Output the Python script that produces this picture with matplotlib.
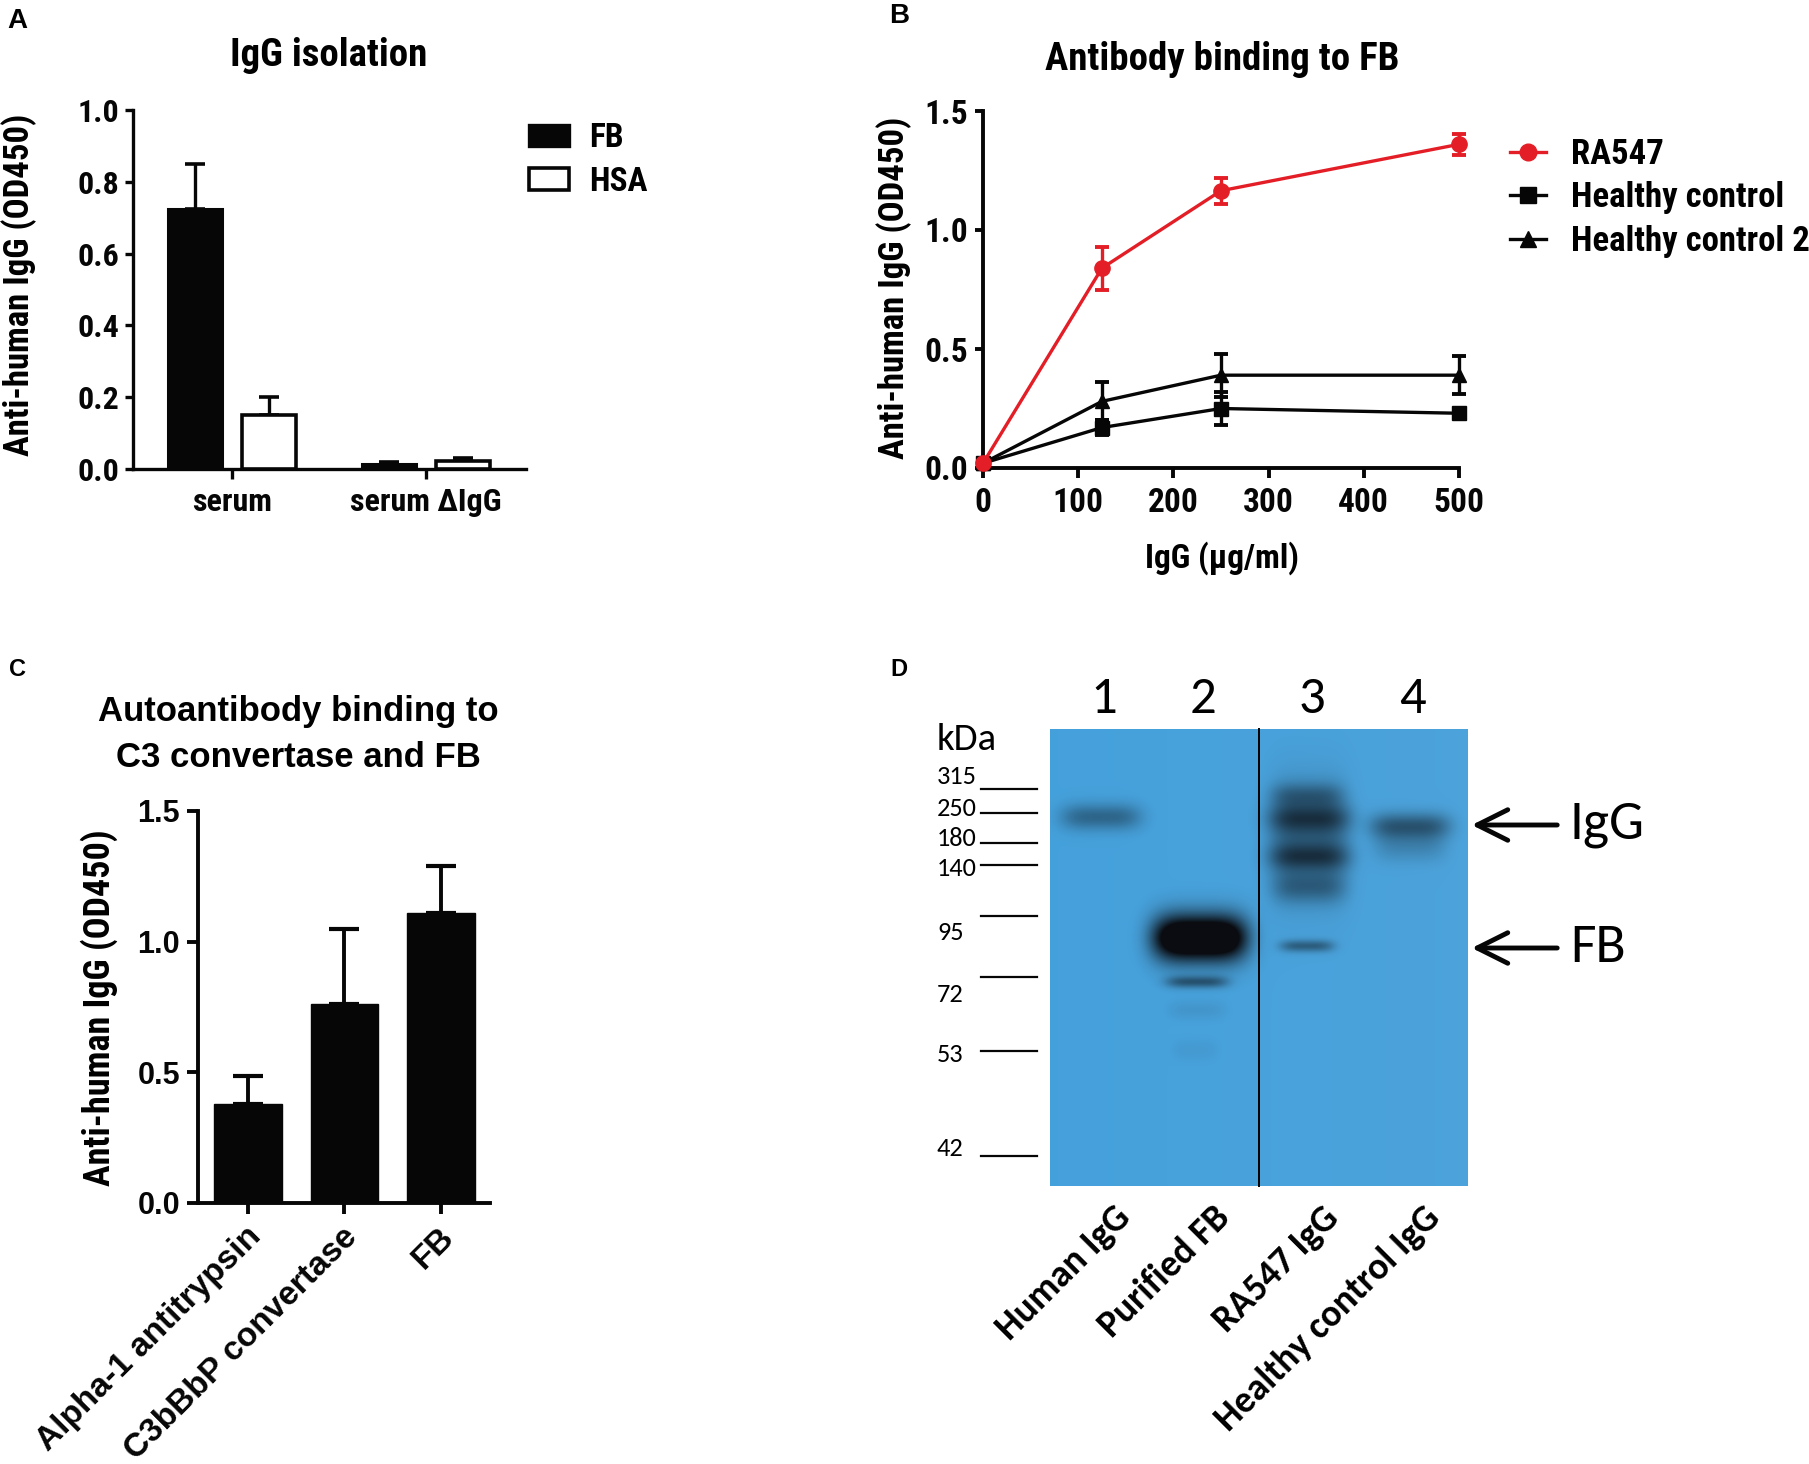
import numpy as np
import matplotlib
matplotlib.use('Agg')
import matplotlib.pyplot as plt
from matplotlib.patches import Patch
from matplotlib.lines import Line2D

# ---------------- data ----------------
# Panel A
a_groups = ['serum', 'serum \u0394IgG']
a_fb = [0.725, 0.015]
a_fb_err = [0.125, 0.004]
a_hsa = [0.150, 0.021]
a_hsa_err = [0.050, 0.010]

# Panel B
b_conc = [0, 125, 250, 500]
b_ra547 = [0.02, 0.84, 1.165, 1.36]
b_ra547_err = [0.0, 0.09, 0.055, 0.045]
b_hc = [0.02, 0.17, 0.25, 0.23]
b_hc_err = [0.0, 0.03, 0.07, 0.012]
b_hc2 = [0.02, 0.28, 0.39, 0.39]
b_hc2_err = [0.0, 0.08, 0.09, 0.08]

# Panel C
c_cats = ['Alpha-1 antitrypsin', 'C3bBbP convertase', 'FB']
c_vals = [0.38, 0.76, 1.11]
c_err = [0.105, 0.29, 0.18]

# Panel D (western blot, positions in image pixels)
d_lane_nums = ['1', '2', '3', '4']
d_lane_names = ['Human IgG', 'Purified FB', 'RA547 IgG', 'Healthy control IgG']
d_lane_x = [1101, 1200, 1309, 1410]
d_marker_kda = ['315', '250', '180', '140', '', '95', '72', '53', '42']
d_marker_label_y = [776, 808, 839, 869, None, 932, 994, 1055, 1149]
d_marker_line_y = [789, 813, 843, 865, 916, None, 977, 1051, 1156]
# (lane index, centre y, half width, half height, intensity, x shift)
d_bands = [
    (0, 817, 40, 13, 0.40, 0),
    (1, 938, 47, 23, 1.6, 0),
    (1, 982, 31, 6, 0.50, -3),
    (1, 1010, 28, 9, 0.08, -3),
    (1, 1050, 22, 10, 0.05, -5),
    (2, 795, 36, 12, 0.30, -2),
    (2, 818, 42, 14, 0.42, 0),
    (2, 857, 41, 13, 0.40, 0),
    (2, 840, 40, 52, 0.42, 0),
    (2, 888, 36, 15, 0.30, 0),
    (2, 946, 27, 6, 0.45, -2),
    (3, 826, 40, 13, 0.50, 0),
    (3, 846, 36, 16, 0.20, 0),
]
d_annot = ['IgG', 'FB']
d_annot_y = [825, 948]

# ---------------- layout helpers ----------------
W, H = 1809, 1464
fig = plt.figure(figsize=(W / 100, H / 100), dpi=100)
NARROW = ['Roboto Condensed', 'PT Sans Narrow', 'Liberation Sans', 'DejaVu Sans']
ARIAL = ['Liberation Sans', 'DejaVu Sans']
CAL = ['Carlito', 'Lato', 'DejaVu Sans']
plt.rcParams['font.family'] = NARROW
plt.rcParams['font.weight'] = 'bold'
K = '#060606'
RED = '#E41E26'


def ax_px(l, t, r, b):
    return fig.add_axes([l / W, 1 - b / H, (r - l) / W, (b - t) / H])


def fx(x):
    return x / W


def fy(y):
    return 1 - y / H


def style_axes(ax, lw, ylen, xlen, fs, family, ypad, xpad):
    for s in ['top', 'right']:
        ax.spines[s].set_visible(False)
    for s in ['left', 'bottom']:
        ax.spines[s].set_linewidth(lw)
        ax.spines[s].set_color(K)
    ax.tick_params(axis='y', length=ylen, width=lw, pad=ypad, colors=K)
    ax.tick_params(axis='x', length=xlen, width=lw, pad=xpad, colors=K)
    for lab in ax.get_xticklabels() + ax.get_yticklabels():
        lab.set_fontfamily(family)
        lab.set_fontweight('bold')
        lab.set_fontsize(fs)


# ---------------- Panel A ----------------
axA = ax_px(133, 110, 526, 469)
xa = np.arange(len(a_groups))
off, bw = 0.19, 0.275
axA.errorbar(xa - off, a_fb, yerr=[np.zeros(len(a_fb)), a_fb_err], fmt='none',
             ecolor=K, elinewidth=2.4, capsize=7.5, capthick=2.6, zorder=2)
axA.errorbar(xa + off, a_hsa, yerr=[np.zeros(len(a_hsa)), a_hsa_err], fmt='none',
             ecolor=K, elinewidth=2.4, capsize=7.5, capthick=2.6, zorder=2)
axA.bar(xa - off, a_fb, bw, color=K, edgecolor=K, lw=2.2, zorder=3)
axA.bar(xa + off, a_hsa, bw, color='white', edgecolor=K, lw=2.6, zorder=3)
axA.set_xlim(-0.51, 1.515)
axA.set_ylim(0, 1.0)
axA.set_yticks(np.arange(0, 1.01, 0.2))
axA.set_yticklabels([f'{v:.1f}' for v in np.arange(0, 1.01, 0.2)])
axA.set_xticks(xa)
axA.set_xticklabels(a_groups)
style_axes(axA, 2.4, 6, 7, 23, NARROW, 4, 6)
fig.text(fx(329), fy(55), 'IgG isolation', ha='center', va='center',
         fontsize=28, fontweight='bold', family=NARROW)
fig.text(fx(19), fy(285), 'Anti-human IgG (OD450)', rotation=90, ha='center',
         va='center', fontsize=25, fontweight='bold', family=NARROW)
fig.legend(handles=[Patch(fc=K, ec=K, lw=2.4, label='FB'),
                    Patch(fc='white', ec=K, lw=2.6, label='HSA')],
           loc='upper left', bbox_to_anchor=(fx(529), fy(122)), frameon=False,
           prop={'family': NARROW, 'weight': 'bold', 'size': 24},
           handlelength=1.2, handleheight=0.6, handletextpad=0.6,
           labelspacing=0.35, borderpad=0, borderaxespad=0)

# ---------------- Panel B ----------------
axB = ax_px(983, 111, 1459, 468)
series_b = [
    (b_ra547, b_ra547_err, RED, 'o', 11, 'RA547'),
    (b_hc, b_hc_err, K, 's', 10, 'Healthy control'),
    (b_hc2, b_hc2_err, K, '^', 10, 'Healthy control 2'),
]
handles_b = []
for vals, err, col, mk, ms, lab in series_b[::-1]:
    axB.errorbar(b_conc, vals, yerr=err, fmt='-' + mk, color=col, ms=ms,
                 lw=2.4, elinewidth=2.4, capsize=5, capthick=2.8,
                 clip_on=False, zorder=3)
for vals, err, col, mk, ms, lab in series_b:
    handles_b.append(Line2D([0], [0], color=col, marker=mk, ms=ms + 1, lw=2.4,
                            label=lab))
axB.set_xlim(0, 500)
axB.set_ylim(0, 1.5)
axB.set_xticks(np.arange(0, 501, 100))
axB.set_yticks([0, 0.5, 1.0, 1.5])
axB.set_yticklabels(['0.0', '0.5', '1.0', '1.5'])
style_axes(axB, 2.8, 6, 7, 24, NARROW, 5, 7)
fig.text(fx(1222), fy(60), 'Antibody binding to FB', ha='center', va='center',
         fontsize=28, fontweight='bold', family=NARROW)
fig.text(fx(1222), fy(558), 'IgG (\u00b5g/ml)', ha='center', va='center',
         fontsize=24, fontweight='bold', family=NARROW)
fig.text(fx(894), fy(288), 'Anti-human IgG (OD450)', rotation=90, ha='center',
         va='center', fontsize=25, fontweight='bold', family=NARROW)
fig.legend(handles=handles_b, loc='upper left',
           bbox_to_anchor=(fx(1510), fy(138)), frameon=False,
           prop={'family': NARROW, 'weight': 'bold', 'size': 25},
           handlelength=1.05, handletextpad=0.7, labelspacing=0.3,
           borderpad=0, borderaxespad=0)

# ---------------- Panel C ----------------
axC = ax_px(198, 811, 490, 1203)
xc = np.arange(len(c_cats))
axC.errorbar(xc, c_vals, yerr=[np.zeros(len(c_vals)), c_err], fmt='none',
             ecolor=K, elinewidth=2.8, capsize=11, capthick=3.0, zorder=2)
axC.bar(xc, c_vals, 0.7, color=K, edgecolor=K, lw=1, zorder=3)
axC.set_xlim(-0.52, 2.51)
axC.set_ylim(0, 1.5)
axC.set_yticks([0, 0.5, 1.0, 1.5])
axC.set_yticklabels(['0.0', '0.5', '1.0', '1.5'])
axC.set_xticks(xc)
axC.set_xticklabels([])
style_axes(axC, 2.8, 8, 8, 22, ARIAL, 5, 14)
for i, name in enumerate(c_cats):
    axC.annotate(name, xy=(xc[i], 0), xycoords='data', xytext=(6, -21),
                 textcoords='offset points', rotation=45, ha='right',
                 va='center', rotation_mode='anchor', annotation_clip=False,
                 fontsize=24, fontweight='bold', family=ARIAL, color=K)
fig.text(fx(298), fy(712), 'Autoantibody binding to', ha='center',
         va='center', fontsize=25, fontweight='bold', family=ARIAL)
fig.text(fx(298), fy(757), 'C3 convertase and FB', ha='center',
         va='center', fontsize=25, fontweight='bold', family=ARIAL)
fig.text(fx(99), fy(1008), 'Anti-human IgG (OD450)', rotation=90, ha='center',
         va='center', fontsize=26, fontweight='bold', family=NARROW)

# ---------------- Panel D ----------------
axD = ax_px(900, 680, 1809, 1464)
axD.set_xlim(900, 1809)
axD.set_ylim(1464, 680)
axD.axis('off')
bx0, bx1, by0, by1 = 1050, 1468, 729, 1186
X, Y = np.meshgrid(np.arange(bx0, bx1) + 0.5, np.arange(by0, by1) + 0.5)
D = np.zeros_like(X)
for lane, cy, hw, hh, amp, dx in d_bands:
    cx = d_lane_x[lane] + dx
    D += amp * np.exp(-np.abs((X - cx) / hw) ** 4 - ((Y - cy) / hh) ** 2)
D = np.clip(D, 0, 1)
bg_left = np.array([0.27, 0.63, 0.86])
bg_right = np.array([0.30, 0.64, 0.86])
t = ((X - bx0) / (bx1 - bx0))[..., None]
bg = bg_left * (1 - t) + bg_right * t
dark = np.array([0.04, 0.05, 0.07])
img = bg * (1 - D[..., None]) + dark * D[..., None]
axD.imshow(img, extent=(bx0, bx1, by1, by0), aspect='auto',
           interpolation='bilinear', zorder=1)
axD.plot([1259, 1259], [by0, by1], color='black', lw=1.4, zorder=2)
for yl in d_marker_line_y:
    if yl is not None:
        axD.plot([981, 1037], [yl, yl], color=K, lw=1.6)
for lab, yl in zip(d_marker_kda, d_marker_label_y):
    if yl is not None:
        axD.text(937, yl, lab, ha='left', va='center', fontsize=19,
                 family=CAL, fontweight='normal')
axD.text(937, 739, 'kDa', ha='left', va='center', fontsize=28, family=CAL,
         fontweight='normal')
for num, lx in zip(d_lane_nums, d_lane_x):
    axD.text(lx + 3, 699, num, ha='center', va='center', fontsize=38,
             family=CAL, fontweight='normal')
for name, lx in zip(d_lane_names, d_lane_x):
    axD.text(lx + 24, 1212, name, ha='right', va='center', rotation=45,
             rotation_mode='anchor', fontsize=27, family=CAL,
             fontweight='bold')
for lab, ya in zip(d_annot, d_annot_y):
    axD.annotate('', xy=(1469, ya), xytext=(1560, ya),
                 arrowprops=dict(arrowstyle='->,head_length=1.1,head_width=0.55',
                                 lw=3.5, color=K, mutation_scale=20))
    axD.text(1570, ya, lab, ha='left', va='center', fontsize=40, family=CAL,
             fontweight='normal')

# ---------------- panel letters ----------------
for letter, x, y, fs in [('A', 17, 21, 20), ('B', 899, 16, 20),
                         ('C', 17, 669, 17), ('D', 899, 669, 17)]:
    fig.text(fx(x), fy(y), letter, ha='center', va='center', fontsize=fs,
             fontweight='bold', family=ARIAL)

fig.savefig('out.png', dpi=100)
